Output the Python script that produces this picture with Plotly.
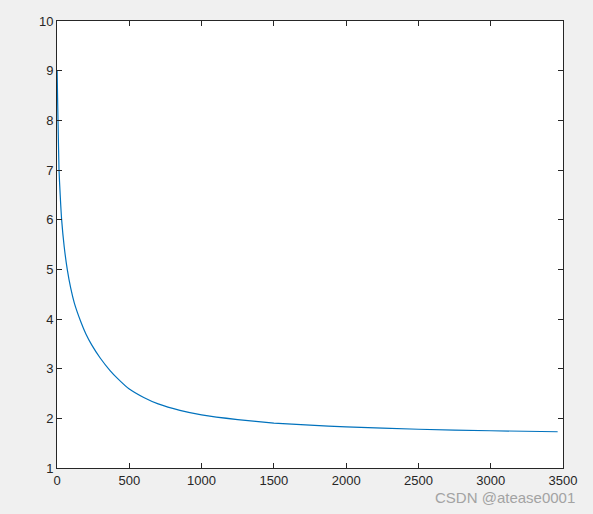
import plotly.graph_objects as go

# values
iters = [1, 4, 7, 14, 22, 32, 50, 71, 95, 120, 164, 200, 240, 300, 367, 420, 500,
         600, 700, 850, 1000, 1250, 1500, 1750, 2000, 2500, 3000, 3463]
loss = [9.0, 8.45, 8.0, 7.0, 6.5, 6.0, 5.45, 5.0, 4.62, 4.32, 3.95, 3.7, 3.48, 3.21, 2.962, 2.80, 2.59,
        2.42, 2.29, 2.16, 2.07, 1.975, 1.905, 1.862, 1.83, 1.78, 1.75, 1.73]

axis_color = '#262626'
tick_font = dict(family='Liberation Sans, Arial, sans-serif', size=13, color=axis_color)

fig = go.Figure()
fig.add_trace(go.Scatter(
    x=iters,
    y=loss,
    mode='lines',
    line=dict(color='#0072BD', width=1.2, shape='spline', smoothing=0.5),
    showlegend=False
))

axis_common = dict(
    showline=True,
    linecolor=axis_color,
    linewidth=1,
    mirror='ticks',
    ticks='inside',
    ticklen=5,
    tickcolor=axis_color,
    showgrid=False,
    zeroline=False,
    tickfont=tick_font,
)

fig.update_layout(
    width=593,
    height=514,
    paper_bgcolor='#f0f0f0',
    plot_bgcolor='white',
    margin=dict(l=57, r=30, t=21, b=46),
    xaxis=dict(range=[0, 3500], tickmode='linear', tick0=0, dtick=500, **axis_common),
    yaxis=dict(range=[1, 10], tickmode='linear', tick0=1, dtick=1, **axis_common),
)

fig.add_annotation(
    text='CSDN @atease0001',
    xref='paper', yref='paper',
    x=1.028, y=-0.067,
    xanchor='right', yanchor='middle',
    showarrow=False,
    font=dict(family='Liberation Sans, Arial, sans-serif', size=15, color='#a3a3a3')
)

# drop the default page margin so the figure sits at the window corner
fig.write_html("out.html", config={'displayModeBar': False},
               post_script="document.body.style.margin='0';")
